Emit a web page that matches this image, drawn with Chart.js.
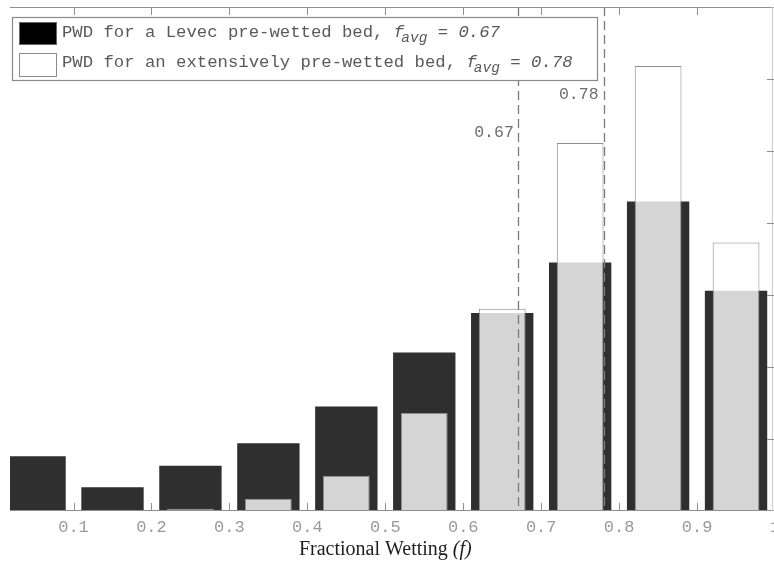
<!DOCTYPE html>
<html>
<head>
<meta charset="utf-8">
<script src="https://cdn.jsdelivr.net/npm/chart.js@4.4.1/dist/chart.umd.min.js"></script>
<style>
  html, body { margin: 0; padding: 0; background: #fff; }
  #wrap { width: 774px; height: 561px; }
</style>
</head>
<body>
<div id="wrap"><canvas id="pwd" width="774" height="561"></canvas></div>
<script>
// histogram bins (centre of each 0.1 wide bin of fractional wetting)
const binCentres = [0.05, 0.15, 0.25, 0.35, 0.45, 0.55, 0.65, 0.75, 0.85, 0.95];
// % of particles per bin
const levecPct     = [3.8, 1.65, 3.15, 4.7, 7.25, 11.0, 13.75, 17.25, 21.5, 15.3];
const extensivePct = [0, 0.08, 0.15, 0.85, 2.45, 6.8, 14.05, 25.55, 30.9, 18.65];
const xTicks = [0.1, 0.2, 0.3, 0.4, 0.5, 0.6, 0.7, 0.8, 0.9, 1.0];
const yTicks = [5, 10, 15, 20, 25, 30];
const avgLevec = 0.67;
const avgExtensive = 0.78;

const MONO = '"Liberation Mono", "DejaVu Sans Mono", monospace';
const SERIF = '"Liberation Serif", "DejaVu Serif", serif';

// axes, averages, legend and labels drawn on top of the bars
const figureDecor = {
  id: 'figureDecor',
  beforeDraw(chart) {
    const ctx = chart.ctx;
    ctx.save();
    ctx.fillStyle = '#fff';
    ctx.fillRect(0, 0, chart.width, chart.height);
    ctx.restore();
  },
  afterDatasetsDraw(chart) {
    const { ctx, chartArea: a, scales: { x, y } } = chart;
    ctx.save();

    // dashed average lines
    ctx.strokeStyle = '#7a7a7a';
    ctx.lineWidth = 1.3;
    ctx.setLineDash([9, 5]);
    [avgLevec, avgExtensive].forEach(v => {
      const px = Math.round(x.getPixelForValue(v)) + 0.5;
      ctx.beginPath();
      ctx.moveTo(px, a.top);
      ctx.lineTo(px, a.bottom);
      ctx.stroke();
    });
    ctx.setLineDash([]);

    // frame lines
    ctx.strokeStyle = '#8f8f8f';
    ctx.lineWidth = 1.2;
    ctx.beginPath();
    ctx.moveTo(a.left, a.top + 0.5);
    ctx.lineTo(a.right, a.top + 0.5);
    ctx.moveTo(a.left, a.bottom - 0.5);
    ctx.lineTo(a.right, a.bottom - 0.5);
    ctx.stroke();
    ctx.strokeStyle = '#d0d0d0';
    ctx.beginPath();
    ctx.moveTo(a.right - 1.5, a.top);
    ctx.lineTo(a.right - 1.5, a.bottom);
    ctx.stroke();

    // inward ticks
    ctx.strokeStyle = '#8f8f8f';
    ctx.lineWidth = 1;
    ctx.beginPath();
    xTicks.forEach(v => {
      const px = Math.round(x.getPixelForValue(v)) + 0.5;
      ctx.moveTo(px, a.bottom);
      ctx.lineTo(px, a.bottom - 8);
      ctx.moveTo(px, a.top);
      ctx.lineTo(px, a.top + 8);
    });
    yTicks.forEach(v => {
      const py = Math.round(y.getPixelForValue(v)) + 0.5;
      ctx.moveTo(a.right, py);
      ctx.lineTo(a.right - 7, py);
    });
    ctx.stroke();

    // tick labels
    ctx.fillStyle = '#9a9a9a';
    ctx.font = '17px ' + MONO;
    ctx.textAlign = 'center';
    ctx.textBaseline = 'middle';
    xTicks.forEach(v => {
      ctx.fillText(v === 1 ? '1' : v.toFixed(1), x.getPixelForValue(v), a.bottom + 16);
    });

    // average value labels
    ctx.fillStyle = '#6e6e6e';
    ctx.font = '16.5px ' + MONO;
    ctx.textAlign = 'right';
    ctx.fillText(avgLevec.toFixed(2), x.getPixelForValue(avgLevec) - 4, a.top + 126);
    ctx.fillText(avgExtensive.toFixed(2), x.getPixelForValue(avgExtensive) - 5, a.top + 88);

    // legend
    ctx.fillStyle = '#fff';
    ctx.fillRect(12, 17, 585, 64);
    ctx.strokeStyle = '#8a8a8a';
    ctx.lineWidth = 1.2;
    ctx.strokeRect(12.5, 17.5, 585, 63);
    ctx.fillStyle = '#000';
    ctx.fillRect(19, 22, 38, 23);
    ctx.strokeStyle = '#666';
    ctx.lineWidth = 1;
    ctx.strokeRect(19.5, 22.5, 37, 22);
    ctx.fillStyle = '#fff';
    ctx.fillRect(19, 53, 38, 24);
    ctx.strokeStyle = '#8a8a8a';
    ctx.strokeRect(19.5, 53.5, 37, 23);

    const legendRow = (text, avg, base) => {
      ctx.textAlign = 'left';
      ctx.textBaseline = 'alphabetic';
      ctx.fillStyle = '#5a5a5a';
      let cx = 62;
      ctx.font = '17.3px ' + MONO;
      ctx.fillText(text, cx, base);
      cx += ctx.measureText(text).width;
      ctx.font = 'italic 17.3px ' + MONO;
      ctx.fillText('f', cx, base);
      cx += ctx.measureText('f').width - 3;
      ctx.font = 'italic 14.5px ' + MONO;
      ctx.fillText('avg', cx, base + 5);
      cx += ctx.measureText('avg').width;
      ctx.font = 'italic 17.3px ' + MONO;
      ctx.fillText(' = ' + avg.toFixed(2), cx, base);
    };
    legendRow('PWD for a Levec pre-wetted bed, ', avgLevec, 37);
    legendRow('PWD for an extensively pre-wetted bed, ', avgExtensive, 67);

    // x axis title
    const t1 = 'Fractional Wetting ';
    const t2 = '(f)';
    ctx.fillStyle = '#1e1e1e';
    ctx.font = '20px ' + SERIF;
    const w1 = ctx.measureText(t1).width;
    ctx.font = 'italic 20px ' + SERIF;
    const w2 = ctx.measureText(t2).width;
    const start = x.getPixelForValue(0.5) - (w1 + w2) / 2;
    ctx.font = '20px ' + SERIF;
    ctx.fillText(t1, start, a.bottom + 44);
    ctx.font = 'italic 20px ' + SERIF;
    ctx.fillText(t2, start + w1, a.bottom + 44);

    ctx.restore();
  }
};

new Chart(document.getElementById('pwd'), {
  type: 'bar',
  data: {
    datasets: [
      {
        label: 'PWD for a Levec pre-wetted bed',
        data: binCentres.map((c, i) => ({ x: c, y: levecPct[i] })),
        backgroundColor: '#2f2f2f',
        borderWidth: 0,
        barPercentage: 0.8,
        categoryPercentage: 1.0,
        grouped: false,
        order: 1
      },
      {
        label: 'PWD for an extensively pre-wetted bed',
        data: binCentres.map((c, i) => ({ x: c, y: extensivePct[i] })),
        backgroundColor: 'rgba(255,255,255,0.8)',
        borderColor: '#8c8c8c',
        borderWidth: 1,
        barPercentage: 0.6,
        categoryPercentage: 1.0,
        grouped: false,
        order: 0
      }
    ]
  },
  options: {
    responsive: false,
    devicePixelRatio: 1,
    animation: false,
    layout: { padding: { left: 10, right: 0, top: 7, bottom: 50 } },
    plugins: {
      legend: { display: false },
      tooltip: { enabled: false }
    },
    scales: {
      x: {
        type: 'linear',
        display: false,
        offset: false,
        min: 0.0185,
        max: 0.9987,
        afterBuildTicks: axis => { axis.ticks = xTicks.map(v => ({ value: v })); }
      },
      y: {
        display: false,
        min: 0,
        max: 35
      }
    }
  },
  plugins: [figureDecor]
});
</script>
</body>
</html>
